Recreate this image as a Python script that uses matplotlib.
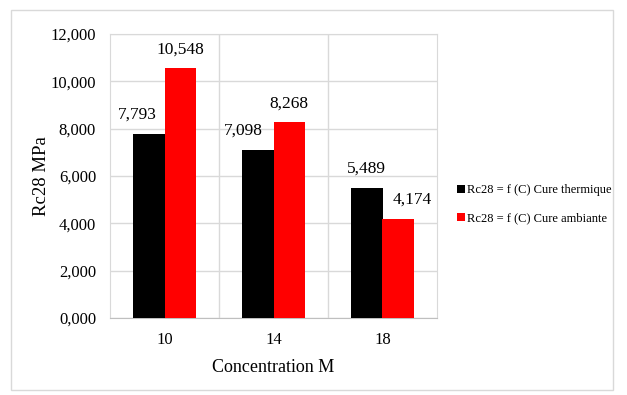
import matplotlib
matplotlib.use("Agg")
import matplotlib.pyplot as plt
import numpy as np
from matplotlib.patches import Rectangle

categories = ["10", "14", "18"]
thermique = [7.793, 7.098, 5.489]
ambiante = [10.548, 8.268, 4.174]
labels_th = ["7,793", "7,098", "5,489"]
labels_am = ["10,548", "8,268", "4,174"]
yticks = [0, 2, 4, 6, 8, 10, 12]
ytick_labels = ["0,000", "2,000", "4,000", "6,000", "8,000", "10,000", "12,000"]
series_names = ["Rc28 = f (C) Cure thermique", "Rc28 = f (C) Cure ambiante"]

# horizontal nudges (points) that Excel applied to avoid overlapping labels
shift_th = [-8, -10, 0]
shift_am = [0, 0, 10]

plt.rcParams['font.family'] = ['Liberation Serif', 'DejaVu Serif']

W, H = 627, 395
fig = plt.figure(figsize=(W/100, H/100), dpi=100)
fig.patch.set_facecolor("white")
fig.add_artist(Rectangle((11/W, 1 - 390/H), (613-11)/W, (390-10)/H,
                         transform=fig.transFigure, fill=False,
                         edgecolor="#d9d9d9", linewidth=1))

ax = fig.add_axes([110/W, 1 - 318/H, (437-110)/W, (318-34)/H])
x = np.arange(len(categories))
bw = 0.29
b1 = ax.bar(x - bw/2, thermique, bw, color="black", label=series_names[0], zorder=3)
b2 = ax.bar(x + bw/2, ambiante, bw, color="#ff0000", label=series_names[1], zorder=3)

for rect, lab, dx in zip(b1, labels_th, shift_th):
    ax.annotate(lab, (rect.get_x() + rect.get_width()/2, rect.get_height()),
                xytext=(dx, 8), textcoords="offset points",
                ha="center", va="bottom", fontsize=12.5)
for rect, lab, dx in zip(b2, labels_am, shift_am):
    ax.annotate(lab, (rect.get_x() + rect.get_width()/2, rect.get_height()),
                xytext=(dx, 8), textcoords="offset points",
                ha="center", va="bottom", fontsize=12.5)

ax.set_xlim(-0.5, 2.5)
ax.set_ylim(0, 12)
ax.set_yticks(yticks)
ax.set_yticklabels(ytick_labels, fontsize=12)
ax.set_xticks(x)
ax.set_xticklabels(categories, fontsize=12)
ax.tick_params(axis="x", length=0, pad=10)
ax.tick_params(axis="y", length=0, pad=10)

for yv in yticks:
    ax.axhline(yv, color="#d9d9d9", linewidth=1, zorder=1)
for xv in [0.5, 1.5]:
    ax.axvline(xv, color="#d9d9d9", linewidth=1, zorder=1)
for s in ["top", "right", "left"]:
    ax.spines[s].set_color("#d9d9d9")
ax.spines["bottom"].set_color("#bfbfbf")

ax.set_ylabel("Rc28 MPa", fontsize=13.5)
ax.yaxis.set_label_coords(-0.185, 0.5)
ax.set_xlabel("Concentration M", fontsize=13, labelpad=8)

leg = fig.legend(handles=[b1, b2], labels=series_names, loc="upper left",
                 bbox_to_anchor=(446/W, 1 - 173/H), frameon=False,
                 fontsize=9, handlelength=0.6, handleheight=0.6,
                 handletextpad=0.15, labelspacing=1.3)

fig.savefig("out.png", dpi=100)
